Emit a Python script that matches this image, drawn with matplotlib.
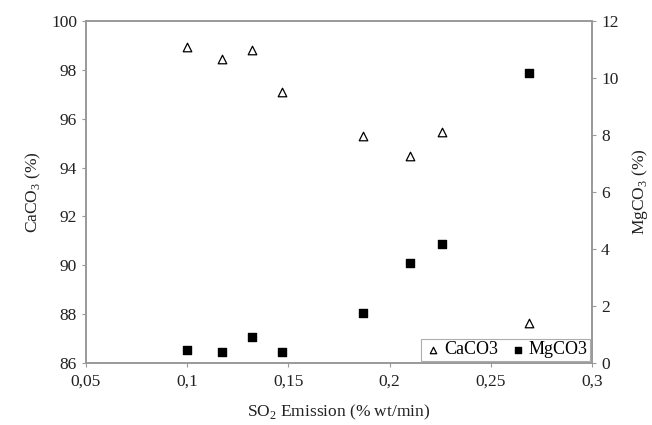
import matplotlib.pyplot as plt
from matplotlib.ticker import FuncFormatter

plt.rcParams['font.family'] = ['Liberation Serif', 'DejaVu Serif']
plt.rcParams['mathtext.fontset'] = 'custom'
plt.rcParams['mathtext.rm'] = 'Liberation Serif'

# SO2 emission (% wt/min)
so2 = [0.100, 0.117, 0.132, 0.147, 0.187, 0.210, 0.226, 0.269]
# CaCO3 content (%)
caco3 = [98.93, 98.44, 98.81, 97.09, 95.29, 94.47, 95.45, 87.62]
# MgCO3 content (%)
mgco3 = [0.46, 0.39, 0.91, 0.39, 1.75, 3.51, 4.18, 10.18]

grey = '#999999'

fig = plt.figure(figsize=(6.52, 4.25), dpi=100)
ax = fig.add_axes([86 / 652, 1 - 363 / 425, (592 - 86) / 652, (363 - 21) / 425])
ax2 = ax.twinx()

h1 = ax.scatter(so2, caco3, marker='^', s=38, facecolors='white',
                edgecolors='black', linewidths=0.9, label='CaCO3', zorder=3)
h2 = ax2.scatter(so2, mgco3, marker='s', s=40, color='black',
                 label='MgCO3', zorder=3)

ax.set_xlim(0.05, 0.3)
ax.set_ylim(86, 100)
ax2.set_ylim(0, 12)
ax.set_xticks([0.05, 0.1, 0.15, 0.2, 0.25, 0.3])
ax.set_yticks(range(86, 101, 2))
ax2.set_yticks(range(0, 13, 2))

comma = FuncFormatter(lambda v, p: ('%g' % round(v, 3)).replace('.', ','))
ax.xaxis.set_major_formatter(comma)

for a in (ax, ax2):
    for s in a.spines.values():
        s.set_color(grey)
        s.set_linewidth(1.2)
    a.tick_params(colors=grey, labelcolor='#222222', labelsize=12.5,
                  length=3, width=0.8)
ax.tick_params(axis='x', pad=5)

ax.set_xlabel('SO$_2$ Emission (% wt/min)', fontsize=12.5, color='#222222',
              labelpad=9)
ax.set_ylabel('CaCO$_3$ (%)', fontsize=12.5, color='#222222', labelpad=6)
ax2.set_ylabel('MgCO$_3$ (%)', fontsize=12.5, color='#222222', labelpad=8)

leg = ax.legend([h1, h2], ['CaCO3', 'MgCO3'], loc='lower right', ncol=2,
                fontsize=13, frameon=True, fancybox=False, borderpad=0.15,
                handletextpad=0.1, columnspacing=0.6, handlelength=1.0,
                borderaxespad=0.1, markerscale=0.75)
leg.get_frame().set_edgecolor(grey)
leg.get_frame().set_linewidth(0.8)

fig.savefig('out.png', dpi=100)
